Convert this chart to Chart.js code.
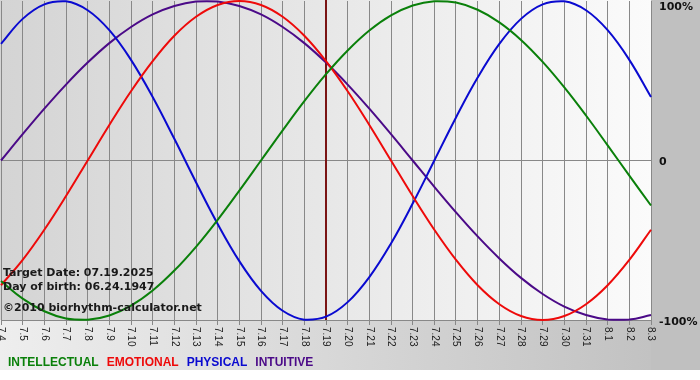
<!DOCTYPE html>
<html>
<head>
<meta charset="utf-8">
<title>Biorhythm</title>
<script src="https://cdn.jsdelivr.net/npm/chart.js@4.4.1/dist/chart.umd.min.js"></script>
<style>
    html, body { margin: 0; padding: 0; background: #fff; }
    canvas { display: block; }
</style>
</head>
<body>
<canvas id="bioChart" width="700" height="380"></canvas>
<script>
const days = ['7.4', '7.5', '7.6', '7.7', '7.8', '7.9', '7.10', '7.11', '7.12', '7.13', '7.14', '7.15',
    '7.16', '7.17', '7.18', '7.19', '7.20', '7.21', '7.22', '7.23', '7.24', '7.25', '7.26', '7.27',
    '7.28', '7.29', '7.30', '7.31', '8.1', '8.2', '8.3'];

const intellectual = [-75.6, -86.6, -94.5, -99.0, -99.9, -97.2, -91.0, -81.5, -69.0, -54.1, -37.2,
    -18.9, 0, 18.9, 37.2, 54.1, 69.0, 81.5, 91.0, 97.2, 99.9, 99.0, 94.5, 86.6, 75.6, 61.8,
    45.8, 28.2, 9.5, -9.5, -28.2];
const emotional = [-78.2, -62.3, -43.4, -22.3, 0, 22.3, 43.4, 62.3, 78.2, 90.1, 97.5, 100, 97.5,
    90.1, 78.2, 62.3, 43.4, 22.3, 0, -22.3, -43.4, -62.3, -78.2, -90.1, -97.5, -100, -97.5,
    -90.1, -78.2, -62.3, -43.4];
const physical = [73.1, 88.8, 97.9, 99.8, 94.2, 81.7, 63.1, 39.8, 13.6, -13.6, -39.8, -63.1,
    -81.7, -94.2, -99.8, -97.9, -88.8, -73.1, -52.0, -27.0, 0, 27.0, 52.0, 73.1, 88.8, 97.9,
    99.8, 94.2, 81.7, 63.1, 39.8];
const intuitive = [0, 16.5, 32.5, 47.6, 61.4, 73.6, 83.7, 91.6, 96.9, 99.7, 99.7, 96.9, 91.6,
    83.7, 73.6, 61.4, 47.6, 32.5, 16.5, 0, -16.5, -32.5, -47.6, -61.4, -73.6, -83.7, -91.6,
    -96.9, -99.7, -99.7, -96.9];

const yTicks = [100, 0, -100];
const yTickLabels = ['100%', '0', '-100%'];
const targetDay = '7.19';
const infoLines = ['Target Date: 07.19.2025', 'Day of birth: 06.24.1947', '\u00a92010 biorhythm-calculator.net'];
const seriesNames = ['INTELLECTUAL', 'EMOTIONAL', 'PHYSICAL', 'INTUITIVE'];
const seriesColors = ['#0a800a', '#ee0a0a', '#0a0ad0', '#4b0a88'];

document.addEventListener('DOMContentLoaded', function() {

    // backgrounds behind the plot and the label strips
    const backgroundPlugin = {
        id: 'bioBackground',
        beforeDraw(chart) {
            const { ctx, chartArea: a } = chart;
            ctx.save();
            ctx.fillStyle = '#ffffff';
            ctx.fillRect(0, 0, chart.width, chart.height);

            let g = ctx.createLinearGradient(0, 0, a.right, 0);
            g.addColorStop(0, '#eeeeee');
            g.addColorStop(1, '#c2c2c2');
            ctx.fillStyle = g;
            ctx.fillRect(0, 0, a.right, 370);

            ctx.fillStyle = '#c0c0c0';
            ctx.fillRect(a.right, 0, chart.width - a.right, 370);

            g = ctx.createLinearGradient(0, 0, a.right, 0);
            g.addColorStop(0, '#d4d4d4');
            g.addColorStop(1, '#fbfbfb');
            ctx.fillStyle = g;
            ctx.fillRect(0, 0, a.right, a.bottom);
            ctx.restore();
        }
    };

    const targetPlugin = {
        id: 'bioTarget',
        beforeDatasetsDraw(chart) {
            const { ctx, chartArea: a } = chart;
            const x = chart.scales.x.getPixelForValue(days.indexOf(targetDay));
            ctx.save();
            ctx.strokeStyle = '#7a1414';
            ctx.lineWidth = 2;
            ctx.beginPath();
            ctx.moveTo(x, 0);
            ctx.lineTo(x, a.bottom);
            ctx.stroke();
            ctx.restore();
        }
    };

    const textPlugin = {
        id: 'bioText',
        afterDraw(chart) {
            const { ctx, chartArea: a } = chart;
            const xs = chart.scales.x;
            const ys = chart.scales.y;
            ctx.save();

            // day labels, turned clockwise
            ctx.fillStyle = '#222';
            ctx.font = '10px "Liberation Sans Narrow", "Liberation Sans", sans-serif';
            ctx.textAlign = 'left';
            ctx.textBaseline = 'middle';
            days.forEach((d, i) => {
                ctx.save();
                ctx.translate(xs.getPixelForValue(i), a.bottom + 7);
                ctx.rotate(Math.PI / 2);
                ctx.fillText(d, 0, 0);
                ctx.restore();
            });

            // percent labels on the right
            ctx.fillStyle = '#111';
            ctx.font = 'bold 11px "DejaVu Sans", sans-serif';
            yTicks.forEach((v, i) => {
                const y = Math.max(7, ys.getPixelForValue(v) + 2);
                ctx.fillText(yTickLabels[i], a.right + 8, y);
            });

            // info block
            ctx.textBaseline = 'alphabetic';
            ctx.fillStyle = '#1a1a1a';
            ctx.fillText(infoLines[0], 3, 276);
            ctx.fillText(infoLines[1], 3, 290);
            ctx.fillText(infoLines[2], 3, 311);

            // legend
            ctx.font = 'bold 12px "Liberation Sans", sans-serif';
            let lx = 8;
            seriesNames.forEach((name, i) => {
                ctx.fillStyle = seriesColors[i];
                ctx.fillText(name, lx, 366);
                lx += ctx.measureText(name).width + 8;
            });
            ctx.restore();
        }
    };

    const makeSet = (label, data, color) => ({
        label: label,
        data: data,
        borderColor: color,
        borderWidth: 2,
        pointRadius: 0,
        tension: 0.4,
        fill: false,
        clip: 3
    });

    new Chart(document.getElementById('bioChart').getContext('2d'), {
        type: 'line',
        data: {
            labels: days,
            datasets: [
                makeSet(seriesNames[0], intellectual, seriesColors[0]),
                makeSet(seriesNames[1], emotional, seriesColors[1]),
                makeSet(seriesNames[2], physical, seriesColors[2]),
                makeSet(seriesNames[3], intuitive, seriesColors[3])
            ]
        },
        options: {
            responsive: false,
            animation: false,
            layout: {
                padding: { left: 1, top: 1, right: 49, bottom: 55 }
            },
            plugins: {
                legend: { display: false },
                tooltip: { enabled: false }
            },
            scales: {
                x: {
                    type: 'category',
                    offset: false,
                    grid: {
                        color: '#888888',
                        lineWidth: 1,
                        drawTicks: true,
                        tickLength: 5
                    },
                    border: { display: true, color: '#888888' },
                    ticks: { display: false }
                },
                y: {
                    position: 'right',
                    min: -100,
                    max: 100,
                    grid: {
                        color: ctx => ctx.tick.value === 100 ? 'rgba(0,0,0,0)' : '#888888',
                        drawTicks: false
                    },
                    border: { display: false },
                    ticks: { display: false, stepSize: 100 }
                }
            }
        },
        plugins: [backgroundPlugin, targetPlugin, textPlugin]
    });
});
</script>
</body>
</html>
